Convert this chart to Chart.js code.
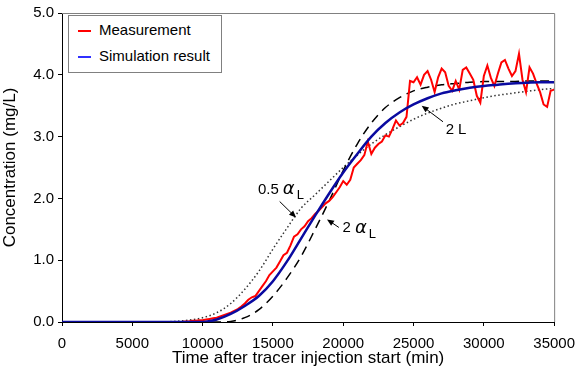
<!DOCTYPE html>
<html>
<head>
<meta charset="utf-8">
<script src="https://cdn.jsdelivr.net/npm/chart.js@4"></script>
<style>
  body { margin: 0; background: #fff; }
  #wrap { position: relative; width: 584px; height: 383px; }
  #legend {
    position: absolute; left: 68px; top: 15px; width: 154px; height: 58px;
    border: 1px solid #808080; background: #fff; box-sizing: border-box;
    font-family: "Liberation Sans", Arial, sans-serif; font-size: 15px; color: #000;
  }
  .item { position: absolute; left: 9px; height: 18px; line-height: 18px; white-space: nowrap; }
  .ln { display: inline-block; width: 13px; height: 2px; vertical-align: middle; margin-right: 8px; border: none; }
</style>
</head>
<body>
<div id="wrap">
  <canvas id="chart" width="584" height="383"></canvas>
  <div id="legend">
    <div class="item" style="top:5px"><span class="ln" style="background-color:#ff0000"></span>Measurement</div>
    <div class="item" style="top:31px"><span class="ln" style="background-color:#3030ff"></span>Simulation result</div>
  </div>
</div>
<script>
// measured concentration (mg/L)
const measTime = [0, 1000, 2000, 3000, 4000, 5000, 6000, 7000, 8000, 8500, 8750, 9000, 9250, 9500, 9750,
  10000, 10250, 10500, 10750, 11000, 11250, 11500, 11750, 12000, 12250, 12500, 12750, 13000, 13250, 13500, 13750,
  14000, 14250, 14500, 14750, 15000, 15250, 15500, 15750, 16000, 16250, 16500, 16750, 17000, 17250, 17500, 17750,
  18000, 18250, 18500, 18750, 19000, 19250, 19500, 19750, 20000, 20250, 20500, 20750, 21000, 21250, 21500, 21750,
  22000, 22250, 22500, 22750, 23000, 23250, 23500, 23750, 24000, 24250, 24500, 24750, 25000, 25250, 25500, 25750,
  26000, 26250, 26500, 26750, 27000, 27250, 27500, 27750, 28000, 28250, 28500, 28750, 29000, 29250, 29500, 29750,
  30000, 30250, 30500, 30750, 31000, 31250, 31500, 31750, 32000, 32250, 32500, 32750, 33000, 33250, 33500, 33750,
  34000, 34250, 34500, 34750, 35000];
const measConc = [0, 0, 0, 0, 0, 0, 0, 0, 0, 0.0, 0.01, 0.01, 0.02, 0.02, 0.03,
  0.03, 0.04, 0.05, 0.06, 0.07, 0.09, 0.11, 0.13, 0.15, 0.18, 0.21, 0.25, 0.30, 0.36, 0.40, 0.42,
  0.50, 0.58, 0.66, 0.76, 0.82, 0.88, 0.98, 1.08, 1.12, 1.24, 1.38, 1.42, 1.50, 1.55, 1.63, 1.68,
  1.75, 1.80, 1.86, 1.92, 1.96, 2.02, 2.10, 2.18, 2.28, 2.22, 2.30, 2.50, 2.56, 2.62, 2.70, 2.92,
  2.72, 2.82, 2.88, 2.92, 3.02, 3.00, 3.12, 3.26, 3.18, 3.22, 3.32, 3.90, 3.88, 3.96, 3.84, 4.00,
  4.06, 3.92, 3.72, 3.96, 4.10, 4.04, 3.82, 3.74, 3.90, 3.76, 4.08, 4.12, 4.02, 3.92, 3.66, 3.55,
  3.98, 4.15, 3.95, 3.82, 4.02, 4.20, 4.24, 4.10, 3.98, 4.06, 4.34, 3.92, 3.72, 4.12, 4.02, 3.86,
  3.72, 3.52, 3.48, 3.74, 3.76];

// simulated curves
const simTime = [0, 1000, 2000, 3000, 4000, 5000, 6000, 7000, 8000, 9000, 10000, 11000, 12000, 13000, 14000,
  15000, 16000, 17000, 18000, 19000, 20000, 21000, 22000, 23000, 24000, 25000, 26000, 27000, 28000, 29000,
  30000, 31000, 32000, 33000, 34000, 35000];
const simResult = [0, 0, 0, 0, 0, 0, 0, 0, 0, 0, 0.0, 0.04, 0.13, 0.26, 0.42,
  0.66, 0.98, 1.35, 1.72, 2.08, 2.42, 2.72, 3.0, 3.22, 3.39, 3.52, 3.62, 3.70, 3.75, 3.79,
  3.82, 3.84, 3.86, 3.87, 3.88, 3.88];
const simAlpha2 = [0, 0, 0, 0, 0, 0, 0, 0, 0, 0, 0, 0.0, 0.01, 0.07, 0.2,
  0.42, 0.71, 1.06, 1.5, 1.96, 2.45, 2.88, 3.22, 3.47, 3.63, 3.74, 3.80, 3.84, 3.86, 3.88,
  3.89, 3.89, 3.89, 3.90, 3.90, 3.90];
const simAlpha05 = [0, 0, 0, 0, 0, 0, 0, 0, 0.01, 0.03, 0.07, 0.15, 0.3, 0.53, 0.82,
  1.18, 1.52, 1.84, 2.06, 2.28, 2.50, 2.70, 2.88, 3.03, 3.16, 3.28, 3.38, 3.46, 3.53, 3.58,
  3.63, 3.67, 3.70, 3.73, 3.76, 3.78];

const xTicks = [0, 5000, 10000, 15000, 20000, 25000, 30000, 35000];
const yTicks = [0, 1, 2, 3, 4, 5];

// text labels with arrows (data units)
const notes = [
  { num: '0.5', sub: true, tx: 13937, ty: 2.14, from: [15480, 1.95], to: [16645, 1.69] },
  { num: '2', sub: true, tx: 19955, ty: 1.52, from: [19690, 1.53], to: [18847, 1.66] },
  { num: '2', sub: false, tx: 27285, ty: 3.11, from: [27096, 3.24], to: [25580, 3.5] }
];

const pts = (xs, ys) => xs.map((x, i) => ({ x: x, y: ys[i] }));
const FONT = '"Liberation Sans", Arial, sans-serif';

const frame = {
  id: 'frame',
  afterDraw(chart) {
    const a = chart.chartArea, c = chart.ctx;
    c.save();
    c.strokeStyle = '#808080';
    c.lineWidth = 1;
    c.beginPath();
    c.moveTo(a.left, a.top + 0.5);
    c.lineTo(a.right + 0.5, a.top + 0.5);
    c.lineTo(a.right + 0.5, a.bottom);
    c.stroke();

    const sx = chart.scales.x, sy = chart.scales.y;
    c.fillStyle = '#000';
    c.strokeStyle = '#000';
    c.textBaseline = 'middle';
    notes.forEach(n => {
      let px = sx.getPixelForValue(n.tx), py = sy.getPixelForValue(n.ty);
      c.font = '15px ' + FONT;
      c.fillText(n.num, px, py);
      px += c.measureText(n.num).width + 4;
      if (n.sub) {
        c.font = 'italic 18px "DejaVu Sans", sans-serif';
        c.fillText('\u03b1', px, py);
        px += c.measureText('\u03b1').width + 2;
      }
      c.font = (n.sub ? '13px ' : '15px ') + FONT;
      c.fillText('L', px, n.sub ? py + 6 : py);
      // arrow
      const x1 = sx.getPixelForValue(n.from[0]), y1 = sy.getPixelForValue(n.from[1]);
      const x2 = sx.getPixelForValue(n.to[0]), y2 = sy.getPixelForValue(n.to[1]);
      const ang = Math.atan2(y2 - y1, x2 - x1);
      c.lineWidth = 1;
      c.beginPath();
      c.moveTo(x1, y1);
      c.lineTo(x2 - 5 * Math.cos(ang), y2 - 5 * Math.sin(ang));
      c.stroke();
      c.beginPath();
      c.moveTo(x2, y2);
      c.lineTo(x2 - 7 * Math.cos(ang) + 3 * Math.sin(ang), y2 - 7 * Math.sin(ang) - 3 * Math.cos(ang));
      c.lineTo(x2 - 7 * Math.cos(ang) - 3 * Math.sin(ang), y2 - 7 * Math.sin(ang) + 3 * Math.cos(ang));
      c.closePath();
      c.fill();
    });
    c.restore();
  }
};

new Chart(document.getElementById('chart'), {
  type: 'line',
  data: {
    datasets: [
      {
        label: 'Simulation result',
        data: pts(simTime, simResult),
        borderColor: '#0a0aa0', borderWidth: 2.5,
        cubicInterpolationMode: 'monotone', pointRadius: 0
      },
      {
        label: 'Measurement',
        data: pts(measTime, measConc),
        borderColor: '#ff0000', borderWidth: 2,
        tension: 0, pointRadius: 0
      },
      {
        label: '2 αL',
        data: pts(simTime, simAlpha2),
        borderColor: '#000', borderWidth: 1.5, borderDash: [9, 6],
        cubicInterpolationMode: 'monotone', pointRadius: 0
      },
      {
        label: '0.5 αL',
        data: pts(simTime, simAlpha05),
        borderColor: '#333', borderWidth: 1.5, borderDash: [1.5, 2.5],
        cubicInterpolationMode: 'monotone', pointRadius: 0
      }
    ]
  },
  options: {
    responsive: false,
    animation: false,
    layout: { padding: { top: 13, right: 23, left: 0, bottom: 0 } },
    plugins: { legend: { display: false }, tooltip: { enabled: false } },
    scales: {
      x: {
        type: 'linear', min: 0, max: 35000,
        afterBuildTicks: s => { s.ticks = xTicks.map(v => ({ value: v })); },
        afterFit: s => { s.height = 61; },
        grid: { drawOnChartArea: false, drawTicks: true, tickLength: 4, color: '#000' },
        border: { color: '#000', width: 1 },
        ticks: { color: '#000', font: { family: FONT, size: 15 }, padding: 9, maxRotation: 0,
                 callback: v => String(v) },
        title: { display: true, text: 'Time after tracer injection start (min)', color: '#000',
                 font: { family: FONT, size: 17 }, padding: { top: 2, bottom: 14 } }
      },
      y: {
        min: 0, max: 5,
        afterBuildTicks: s => { s.ticks = yTicks.map(v => ({ value: v })); },
        afterFit: s => { s.width = 62; },
        grid: { drawOnChartArea: false, drawTicks: true, tickLength: 4, color: '#000' },
        border: { color: '#000', width: 1 },
        ticks: { color: '#000', font: { family: FONT, size: 15 }, padding: 4,
                 callback: v => v.toFixed(1) },
        title: { display: true, text: 'Concentration (mg/L)', color: '#000',
                 font: { family: FONT, size: 17 }, padding: { top: 0, bottom: 0 } }
      }
    }
  },
  plugins: [frame]
});
</script>
</body>
</html>
